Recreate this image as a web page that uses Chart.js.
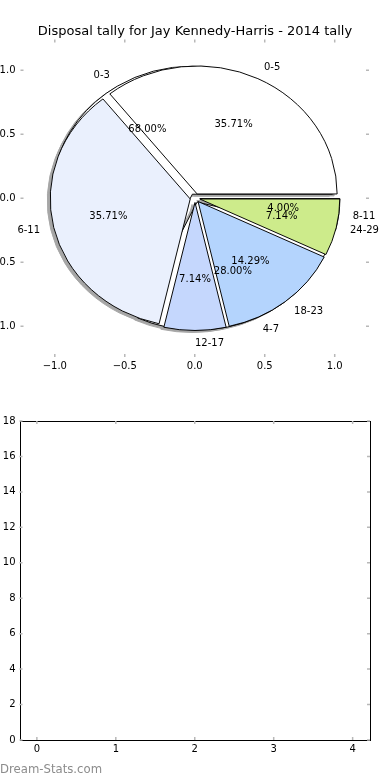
<!DOCTYPE html>
<html lang="en">
<head>
  <meta charset="UTF-8">
  <title>Disposal tally for Jay Kennedy-Harris - 2014 tally</title>
  <script src="https://cdn.jsdelivr.net/npm/chart.js"></script>
  <style>
    * { box-sizing: border-box; }
    body { margin: 0; background: #fff; font-family: 'DejaVu Sans', sans-serif; }
    #page { position: relative; width: 390px; height: 780px; overflow: hidden; }
    .layer { position: absolute; left: 0; top: 0; }
    /* one shadow under both pies, like matplotlib's shadow=True */
    #pies {
      position: absolute; left: 0; top: 0; width: 390px; height: 400px;
      filter: drop-shadow(-2.8px 2.6px 0 rgba(77, 77, 77, 0.5));
    }
    #barChart { position: absolute; left: 0; top: 400px; }
    #credit {
      position: absolute; left: 0; top: 762px;
      font-size: 11.7px; color: #8c8c8c;
    }
  </style>
</head>
<body>
  <div id="page">
    <div id="pies">
      <canvas id="pie1" class="layer" width="390" height="400"></canvas>
      <canvas id="pie2" class="layer" width="390" height="400"></canvas>
    </div>
    <canvas id="pieAxes" class="layer" width="390" height="400"></canvas>
    <canvas id="barChart" width="390" height="360"></canvas>
    <div id="credit">Dream-Stats.com</div>
  </div>

  <script>
    const chartTitle = 'Disposal tally for Jay Kennedy-Harris - 2014 tally';

    // pie drawn first (underneath): games per 4-disposal bucket
    const buckets4 = ['0-3', '4-7', '8-11'];
    const games4 = [17, 7, 1];
    const colors4 = ['#ffffff', '#ffffff', '#ffffff'];

    // pie drawn on top: games per 6-disposal bucket
    const buckets6 = ['0-5', '6-11', '12-17', '18-23', '24-29'];
    const games6 = [5, 5, 1, 2, 1];
    const colors6 = ['#ffffff', '#eaf0fd', '#c5d7fd', '#b4d4fd', '#cdeb8b'];

    const pieTicks = [-1, -0.5, 0, 0.5, 1];

    // lower panel is empty
    const barRounds = [0, 1, 2, 3, 4];
    const barValues = [];
    const barYTicks = [0, 2, 4, 6, 8, 10, 12, 14, 16, 18];

    Chart.defaults.font.family = "'DejaVu Sans', sans-serif";
    Chart.defaults.font.size = 10;
    Chart.defaults.color = '#000';

    const PIE_R = 140;              // px per unit along x
    const Y_SQUASH = 128 / 140;     // axes are not equal, so the pie is an ellipse
    const EXPLODE = 0.035 * PIE_R;
    const TICK_LEN = 3;

    const minus = v => (v < 0 ? '\u2212' : '') + Math.abs(v);
    const fmt1 = v => (v < 0 ? '\u2212' : '') + Math.abs(v).toFixed(1);

    // squash + flip so slices run counter-clockwise from 3 o'clock, and explode each one
    const explodePlugin = {
      id: 'explode',
      beforeDatasetDraw(chart, args) {
        const ctx = chart.ctx;
        const arcs = args.meta.data;
        const cy = arcs[0].y;
        ctx.save();
        ctx.translate(0, cy);
        ctx.scale(1, -Y_SQUASH);
        ctx.translate(0, -cy);
        arcs.forEach(arc => {
          const mid = (arc.startAngle + arc.endAngle) / 2;
          ctx.save();
          ctx.translate(Math.cos(mid) * EXPLODE, Math.sin(mid) * EXPLODE);
          arc.draw(ctx);
          ctx.restore();
        });
        ctx.restore();
        return false;
      }
    };

    function makePie(id, labels, values, colors) {
      return new Chart(document.getElementById(id), {
        type: 'pie',
        data: {
          labels: labels,
          datasets: [{
            data: values,
            backgroundColor: colors,
            borderColor: '#000',
            borderWidth: 1,
            borderJoinStyle: 'miter',
            radius: PIE_R
          }]
        },
        options: {
          responsive: false,
          animation: false,
          devicePixelRatio: 1,
          events: [],
          rotation: 90,
          layout: { padding: { bottom: 4 } },
          plugins: { legend: { display: false }, tooltip: { enabled: false } }
        },
        plugins: [explodePlugin]
      });
    }

    const pies = [
      makePie('pie1', buckets4, games4, colors4),
      makePie('pie2', buckets6, games6, colors6)
    ];

    // gray inward ticks on all four sides, optional black frame
    const innerTicks = {
      id: 'innerTicks',
      afterDraw(chart, args, opts) {
        const { ctx, chartArea: a, scales } = chart;
        ctx.save();
        if (opts.frame) {
          const l = Math.round(a.left) + 0.5, t = Math.round(a.top) + 0.5;
          const r = Math.round(a.right) + 0.5, b = Math.round(a.bottom) + 0.5;
          ctx.strokeStyle = '#000';
          ctx.lineWidth = 1;
          ctx.strokeRect(l, t, r - l, b - t);
        }
        ctx.strokeStyle = '#b8b8b8';
        ctx.lineWidth = 1.5;
        ctx.beginPath();
        scales.x.ticks.forEach(tk => {
          const px = scales.x.getPixelForValue(tk.value);
          ctx.moveTo(px, a.top); ctx.lineTo(px, a.top + TICK_LEN);
          ctx.moveTo(px, a.bottom); ctx.lineTo(px, a.bottom - TICK_LEN);
        });
        scales.y.ticks.forEach(tk => {
          const py = scales.y.getPixelForValue(tk.value);
          ctx.moveTo(a.left, py); ctx.lineTo(a.left + TICK_LEN, py);
          ctx.moveTo(a.right, py); ctx.lineTo(a.right - TICK_LEN, py);
        });
        ctx.stroke();
        ctx.restore();
      }
    };

    // slice names at 1.1 r and percentages at 0.6 r, for both pies, above everything
    const pieLabels = {
      id: 'pieLabels',
      afterDraw(chart) {
        const ctx = chart.ctx;
        ctx.save();
        ctx.font = "10px 'DejaVu Sans'";
        ctx.fillStyle = '#000';
        ctx.textBaseline = 'middle';
        pies.forEach(pie => {
          const values = pie.data.datasets[0].data;
          const total = values.reduce((a, b) => a + b, 0);
          pie.getDatasetMeta(0).data.forEach((arc, i) => {
            const mid = (arc.startAngle + arc.endAngle) / 2;
            const c = Math.cos(mid), s = Math.sin(mid);
            const at = f => {
              const d = EXPLODE + f * arc.outerRadius;
              return [arc.x + d * c, arc.y - Y_SQUASH * d * s];
            };
            let [x, y] = at(1.1);
            ctx.textAlign = c > -1e-6 ? 'left' : 'right';
            ctx.fillText(pie.data.labels[i], x, y);
            [x, y] = at(0.6);
            ctx.textAlign = 'center';
            ctx.fillText((values[i] / total * 100).toFixed(2) + '%', x, y);
          });
        });
        ctx.restore();
      }
    };

    const setTicks = list => s => { s.ticks = list.map(v => ({ value: v })); };

    new Chart(document.getElementById('pieAxes'), {
      type: 'scatter',
      data: { datasets: [] },
      options: {
        responsive: false,
        animation: false,
        devicePixelRatio: 1,
        events: [],
        plugins: {
          legend: { display: false },
          tooltip: { enabled: false },
          title: {
            display: true,
            text: chartTitle,
            color: '#000',
            font: { size: 13, weight: 'normal' },
            padding: { top: 24, bottom: 0 }
          },
          innerTicks: { frame: false }
        },
        scales: {
          x: {
            type: 'linear', min: -1.245, max: 1.245,
            afterBuildTicks: setTicks(pieTicks),
            afterFit: s => { s.height = 43; },
            grid: { display: false, drawTicks: false },
            border: { display: false },
            ticks: { padding: 3, autoSkip: false, maxRotation: 0, callback: v => fmt1(v) }
          },
          y: {
            type: 'linear', min: -1.24, max: 1.24,
            afterBuildTicks: setTicks(pieTicks),
            afterFit: s => { s.width = 20.5; },
            grid: { display: false, drawTicks: false },
            border: { display: false },
            ticks: { padding: 5, autoSkip: false, callback: v => fmt1(v) }
          },
          y2: {
            type: 'linear', position: 'right', min: -1.24, max: 1.24,
            afterFit: s => { s.width = 21; },
            grid: { display: false, drawTicks: false },
            border: { display: false },
            ticks: { display: false }
          }
        }
      },
      plugins: [innerTicks, pieLabels]
    });

    new Chart(document.getElementById('barChart'), {
      type: 'bar',
      data: {
        labels: barRounds,
        datasets: [{ data: barValues, backgroundColor: '#b4d4fd' }]
      },
      options: {
        responsive: false,
        animation: false,
        devicePixelRatio: 1,
        events: [],
        layout: { padding: { top: 21, right: 20 } },
        plugins: {
          legend: { display: false },
          tooltip: { enabled: false },
          innerTicks: { frame: true }
        },
        scales: {
          x: {
            type: 'linear', min: -0.22, max: 4.22, offset: false,
            afterBuildTicks: setTicks(barRounds),
            afterFit: s => { s.height = 20; },
            grid: { display: false, drawTicks: false },
            border: { display: false },
            ticks: { padding: 3, autoSkip: false, maxRotation: 0, callback: v => minus(v) }
          },
          y: {
            type: 'linear', min: 0, max: 18,
            afterBuildTicks: setTicks(barYTicks),
            afterFit: s => { s.width = 19.5; },
            grid: { display: false, drawTicks: false },
            border: { display: false },
            ticks: { padding: 4, autoSkip: false, callback: v => minus(v) }
          }
        }
      },
      plugins: [innerTicks]
    });
  </script>
</body>
</html>
